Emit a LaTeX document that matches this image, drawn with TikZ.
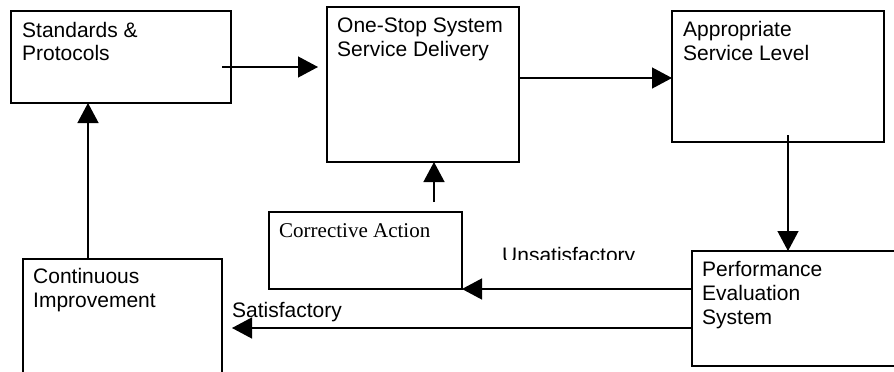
\documentclass[tikz,border=0pt]{standalone}
\usepackage{fontspec}
\setmainfont{Liberation Sans}
\newfontfamily\serifface{Liberation Serif}
\usetikzlibrary{arrows.meta,calc}
\newcommand\stacklines[1]{\begin{tabular}[t]{@{}l@{}}#1\end{tabular}}
\begin{document}
\begin{tikzpicture}[x=1pt,y=-1pt,
  box/.style={draw,line width=1.3pt,rectangle,inner sep=0pt,outer sep=0pt,anchor=north west},
  lbl/.style={inner sep=0pt,anchor=base west,font=\fontsize{21}{24}\selectfont},
  flow/.style={line width=1.3pt,-{Triangle[length=20pt,width=21pt]}}]
\clip (0,0) rectangle (894,372);
\fill[white] (0,0) rectangle (894,372);

% boxes
\node[box,minimum width=220pt,minimum height=92pt]  (sp) at (11,11)  {};
\node[box,minimum width=192pt,minimum height=155pt] (os) at (327,7)  {};
\node[box,minimum width=212pt,minimum height=131pt] (as) at (672,11) {};
\node[box,minimum width=193pt,minimum height=77pt]  (ca) at (269,212) {};
\node[box,minimum width=199pt,minimum height=140pt] (ci) at (23,259) {};
\node[box,minimum width=230pt,minimum height=115pt] (pe) at (692,251) {};

% box texts
\node[lbl] (tsp) at (22,37)   {\stacklines{Standards \&\\Protocols}};
\node[lbl] (tos) at (337,32)  {\stacklines{One-Stop System\\Service Delivery}};
\node[lbl] (tas) at (683,36)  {\stacklines{Appropriate\\Service Level}};
\node[lbl,font=\fontsize{21}{24}\serifface] (tca) at (279,237) {Corrective Action};
\node[lbl] (tci) at (33,283)  {\stacklines{Continuous\\Improvement}};
\node[lbl] (tpe) at (702,276) {\stacklines{Performance\\Evaluation\\System}};

% edge labels
\node[lbl] (tsat) at (232,317) {Satisfactory};
\begin{scope}
  \clip (480,230) rectangle (660,259.5);
  \node[lbl] (tuns) at (502,262) {Unsatisfactory};
\end{scope}

% helper levels
\coordinate (spout) at ([shift={(-9,10)}]sp.east);
\coordinate (osin)  at ([shift={(-9,60)}]os.north west);
\coordinate (r1) at (0,78);
\coordinate (c2) at (788,0);
\coordinate (asout) at ([yshift=7pt]as.south);
\coordinate (r3) at (0,289);
\coordinate (r4) at (0,328);
\coordinate (ciin) at ([xshift=10pt]ci.east);
\coordinate (c5) at (434,0);
\coordinate (caout) at ([yshift=10pt]ca.north);
\coordinate (c6) at (88,0);

% connectors
\draw[flow] (spout) -- (osin |- spout);
\draw[flow] (os.east |- r1) -- (as.west |- r1);
\draw[flow] (asout -| c2) -- (pe.north -| c2);
\draw[flow] (pe.west |- r3) -- (ca.south east |- r3);
\draw[flow] (pe.west |- r4) -- (ciin |- r4);
\draw[flow] (caout -| c5) -- (os.south -| c5);
\draw[flow] (ci.north -| c6) -- (sp.south -| c6);
\end{tikzpicture}
\end{document}
